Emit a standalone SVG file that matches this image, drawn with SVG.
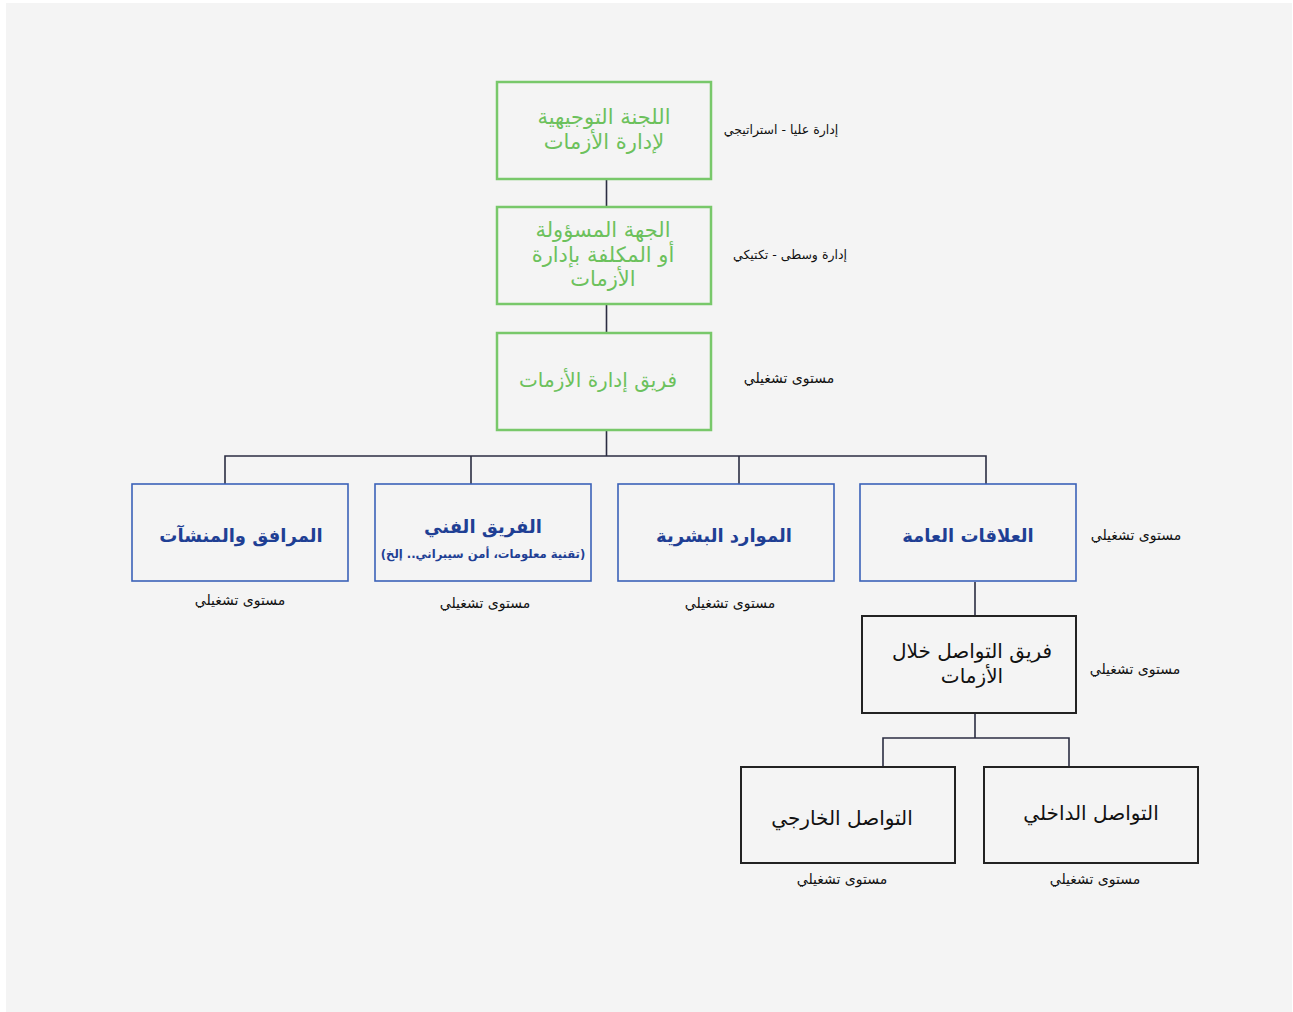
<svg xmlns="http://www.w3.org/2000/svg" width="1293" height="1012" viewBox="0 0 1293 1012">
<style>
text{font-family:"DejaVu Sans","Noto Sans",sans-serif;direction:rtl;text-anchor:middle}
.g rect{fill:#f4f4f4;stroke:#78c86a;stroke-width:2.5}
.g text{fill:#6cc15c;font-size:21px}
.b rect{fill:#f4f4f4;stroke:#3b62b8;stroke-width:1.6}
.b text{fill:#1f3f94;font-size:18px;font-weight:bold}
.b text.sub{font-size:11.6px}
.k rect{fill:#f4f4f4;stroke:#222;stroke-width:2}
.k text{fill:#111;font-size:20px}
.lbl{fill:#111;font-size:14px}
.lbl.sm{font-size:12.5px}
#connectors path{fill:none;stroke:#2b2d42;stroke-width:1.6}
</style>
<rect x="0" y="0" width="1293" height="1012" fill="#ffffff"/>
<rect x="6" y="3" width="1286" height="1009" fill="#f4f4f4"/>
<g id="connectors">
<path d="M606.5 180V207M606.5 305V333M606.5 430V456M225 484V456H986V484M471 456V484M739 456V484"/>
<path d="M975 582V616M975 714V738M883 767V738H1069V767"/>
</g>
<g id="n-steering" class="g">
<rect x="497" y="82" width="214" height="97"/>
<text x="604" y="124">اللجنة التوجيهية</text>
<text x="604" y="149">لإدارة الأزمات</text>
</g>
<g id="n-responsible" class="g">
<rect x="497" y="207" width="214" height="97"/>
<text x="603" y="237">الجهة المسؤولة</text>
<text x="603" y="262">أو المكلفة بإدارة</text>
<text x="603" y="286">الأزمات</text>
</g>
<g id="n-team" class="g">
<rect x="497" y="333" width="214" height="97"/>
<text x="598" y="387" style="font-size:20px">فريق إدارة الأزمات</text>
</g>
<g id="n-facilities" class="b">
<rect x="132" y="484" width="216" height="97"/>
<text x="241" y="542">المرافق والمنشآت</text>
</g>
<g id="n-tech" class="b">
<rect x="375" y="484" width="216" height="97"/>
<text x="483" y="533">الفريق الفني</text>
<text class="sub" x="483" y="558">(تقنية معلومات، أمن سيبراني.. إلخ)</text>
</g>
<g id="n-hr" class="b">
<rect x="618" y="484" width="216" height="97"/>
<text x="724" y="542">الموارد البشرية</text>
</g>
<g id="n-pr" class="b">
<rect x="860" y="484" width="216" height="97"/>
<text x="968" y="542">العلاقات العامة</text>
</g>
<g id="n-comm" class="k">
<rect x="862" y="616" width="214" height="97"/>
<text x="972" y="658">فريق التواصل خلال</text>
<text x="972" y="683">الأزمات</text>
</g>
<g id="n-external" class="k">
<rect x="741" y="767" width="214" height="96"/>
<text x="842" y="825">التواصل الخارجي</text>
</g>
<g id="n-internal" class="k">
<rect x="984" y="767" width="214" height="96"/>
<text x="1091" y="820">التواصل الداخلي</text>
</g>
<g id="labels">
<text class="lbl sm" x="781" y="134">إدارة عليا - استراتيجي</text>
<text class="lbl sm" x="790" y="259">إدارة وسطى - تكتيكي</text>
<text class="lbl" x="789" y="383">مستوى تشغيلي</text>
<text class="lbl" x="1136" y="540">مستوى تشغيلي</text>
<text class="lbl" x="240" y="605">مستوى تشغيلي</text>
<text class="lbl" x="485" y="608">مستوى تشغيلي</text>
<text class="lbl" x="730" y="608">مستوى تشغيلي</text>
<text class="lbl" x="1135" y="674">مستوى تشغيلي</text>
<text class="lbl" x="842" y="884">مستوى تشغيلي</text>
<text class="lbl" x="1095" y="884">مستوى تشغيلي</text>
</g>
</svg>
